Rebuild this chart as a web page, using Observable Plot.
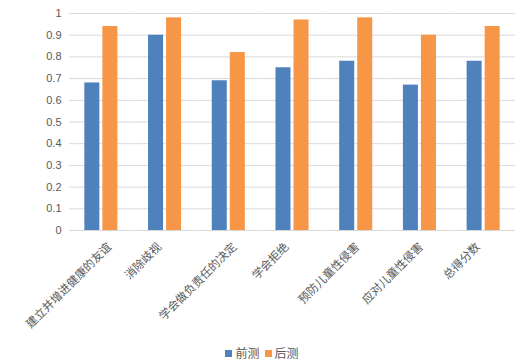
<!DOCTYPE html>
<html><head><meta charset="utf-8">
<script src="https://cdn.jsdelivr.net/npm/d3@7"></script>
<script src="https://cdn.jsdelivr.net/npm/@observablehq/plot@0.6"></script>
<style>
body{margin:0;background:#fff;}
#chart{width:524px;height:362px;position:relative;overflow:hidden;}
#chart svg{position:absolute;left:0;top:0;}
.legend{position:absolute;left:0;top:346px;width:524px;display:flex;justify-content:center;align-items:center;font:12px "Noto Sans CJK SC",sans-serif;color:#595959;line-height:14px;}
.legend .sw{width:7px;height:7px;display:inline-block;margin-right:3px;}
.legend .item{display:flex;align-items:center;margin:0 2.5px;}
</style></head><body><div id="chart"></div>
<script>
const categories = ["建立并增进健康的友谊","消除歧视","学会做负责任的决定","学会拒绝","预防儿童性侵害","应对儿童性侵害","总得分数"];
const pre = [0.68,0.90,0.69,0.75,0.78,0.67,0.78];
const post = [0.94,0.98,0.82,0.97,0.98,0.90,0.94];
const seriesNames = ["前测","后测"];
const colors = ["#4F81BD","#F79646"];
const yTicks = [0,0.1,0.2,0.3,0.4,0.5,0.6,0.7,0.8,0.9,1];

const data = categories.flatMap((c,i)=>[
  {category:c, series:seriesNames[0], value:pre[i]},
  {category:c, series:seriesNames[1], value:post[i]}
]);

const labelDx = s => -3 + 2.3*(s.length-4);

const plot = Plot.plot({
  width:524, height:342,
  marginLeft:69, marginRight:9, marginTop:13, marginBottom:112,
  style:{fontFamily:"'Liberation Sans',Arial,sans-serif", fontSize:"11px", color:"#595959", background:"transparent"},
  fx:{domain:categories, padding:0, round:false, axis:null, label:null},
  x:{domain:seriesNames, paddingInner:0.167, paddingOuter:0.85, round:false, axis:null},
  y:{domain:[0,1], label:null, axis:null},
  color:{domain:seriesNames, range:colors},
  marks:[
    Plot.ruleY(yTicks, {stroke:"#d9d9d9", strokeWidth:1}),
    Plot.axisY({ticks:yTicks, tickSize:0, tickPadding:8, tickFormat:d=>String(d), fill:"#595959", fontSize:11, label:null}),
    Plot.barY(data, {fx:"category", x:"series", y:"value", fill:"series"}),
    ...categories.map(c => Plot.text([c], {
      fx:d=>d, frameAnchor:"bottom", rotate:-45, textAnchor:"end",
      dx:labelDx(c), dy:17, fontSize:11.5, fill:"#595959",
      fontFamily:"'Noto Sans CJK SC',sans-serif"
    }))
  ]
});
const chart = document.getElementById("chart");
chart.appendChild(plot);
const legend = document.createElement("div");
legend.className = "legend";
seriesNames.forEach((s,i)=>{
  const item = document.createElement("span");
  item.className = "item";
  const sw = document.createElement("span");
  sw.className = "sw"; sw.style.background = colors[i];
  const t = document.createElement("span");
  t.textContent = s;
  item.appendChild(sw); item.appendChild(t);
  legend.appendChild(item);
});
chart.appendChild(legend);
</script>
</body></html>
